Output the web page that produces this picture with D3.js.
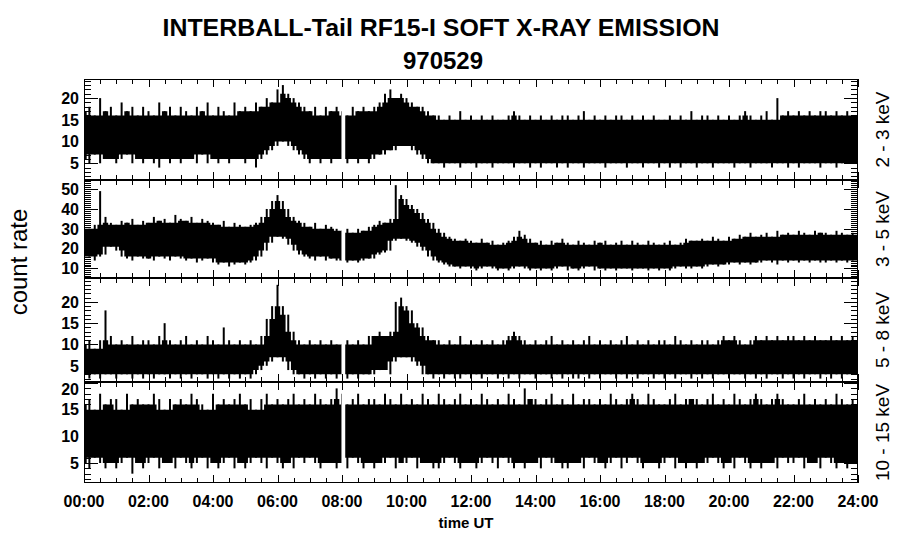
<!DOCTYPE html>
<html lang="en">
<head>
  <meta charset="UTF-8">
  <title>INTERBALL-Tail RF15-I soft X-ray emission</title>
  <style>
    body { margin: 0; background: #fff; }
    svg { display: block; font-family: "Liberation Sans", Arial, sans-serif; }
  </style>
</head>
<body>
  <svg id="chart" width="900" height="548"></svg>

  <script src="https://cdn.jsdelivr.net/npm/d3@7"></script>
  <script>
    // sampling grid: minutes of the day, every 10 min
    const times = d3.range(0, 1441, 10);
    // data gap around 08:00
    const gap = [479, 486];

    const bands = ["2 - 3 keV", "3 - 5 keV", "5 - 8 keV", "10 - 15 keV"];
    const yDomains = [[1.15, 24.4], [5.2, 54.6], [1.2, 25.6], [1.25, 20.2]];
    const yTickVals = [[5, 10, 15, 20], [10, 20, 30, 40, 50], [5, 10, 15, 20], [5, 10, 15, 20]];
    const xTickLabels = ["00:00", "02:00", "04:00", "06:00", "08:00", "10:00", "12:00",
                         "14:00", "16:00", "18:00", "20:00", "22:00", "24:00"];

    // upper / lower envelope of the count rate (10 min steps)
    const hi23 = [
      17,18,16,20,17,18, 16,19,17,18,16,18, 17,16,19,17,18,16, 18,17,16,18,17,19,
      16,18,17,16,19,17, 18,17,19,18,20,19, 22,23,21,20,19,18, 17,18,16,18,17,18,
      17,16,18,17,18,17, 18,19,21,22,20,21, 20,19,18,18,17,16, 16,15,16,15,17,15,
      16,15,16,15,16,15, 15,16,17,16,15,16, 15,16,15,16,15,16, 16,15,16,17,15,16,
      15,16,15,16,16,15, 16,15,16,15,16,15, 15,16,15,16,15,17, 15,16,16,15,16,15,
      16,15,16,17,16,15, 16,17,15,20,16,17, 16,17,16,17,16,17, 17,16,17,16,17,16, 16];
    const lo23 = [
      6,5,7,5,6,6, 5,6,7,5,6,5, 6,5,4,6,5,6, 5,6,6,5,7,5,
      6,5,6,5,6,6, 5,6,4,6,7,8, 9,10,9,8,7,6, 5,6,5,6,5,6,
      6,5,6,5,6,5, 6,7,7,8,8,9, 9,8,7,6,5,5, 5,4,5,5,4,5,
      5,4,5,5,4,5, 5,5,4,5,5,4, 5,4,5,5,4,5, 4,5,5,4,5,5,
      5,4,5,5,5,4, 5,5,4,5,5,4, 5,4,5,4,5,5, 4,5,5,4,5,5,
      5,4,5,5,4,5, 5,5,4,5,5,4, 5,4,5,5,5,4, 5,5,4,5,5,5, 5];
    const hi35 = [
      31,30,32,49,36,33, 32,34,33,35,32,34, 33,36,34,35,33,37, 35,34,36,33,35,34,
      33,32,34,31,33,32, 31,32,33,36,40,44, 47,44,40,36,34,33, 31,33,30,32,31,30,
      29,30,28,30,29,31, 32,34,33,35,52,47, 45,42,40,38,35,33, 30,28,26,25,24,25,
      24,23,25,23,24,22, 23,24,26,29,27,25, 23,24,22,24,23,25, 23,22,24,23,22,24,
      23,24,22,23,24,22, 24,23,22,24,23,22, 23,24,22,23,25,24, 24,25,24,26,25,24,
      26,25,27,26,28,26, 27,28,26,29,27,28, 27,29,28,27,29,28, 28,27,29,28,27,28, 27];
    const lo35 = [
      15,16,14,16,17,21, 19,16,15,14,16,15, 15,14,16,15,14,16, 15,14,15,13,14,15,
      13,12,13,11,12,13, 12,13,14,16,19,23, 26,25,22,19,17,16, 15,14,16,14,15,14,
      14,13,14,13,14,15, 15,17,18,19,24,25, 24,23,21,19,16,14, 13,12,11,11,10,11,
      10,9,10,11,10,9, 10,9,10,11,10,9, 10,9,10,9,10,11, 9,10,9,10,11,9,
      10,9,10,9,10,10, 9,10,10,9,10,9, 10,9,10,11,10,10, 11,10,11,12,11,12,
      12,13,12,13,12,13, 13,14,13,12,14,13, 14,13,14,13,14,13, 13,14,13,14,13,14, 14];
    const hi58 = [
      10,11,9,11,18,12, 10,11,10,12,10,11, 11,10,12,15,11,10, 11,12,10,11,10,12,
      11,10,14,11,10,11, 10,11,10,12,16,19, 24,19,17,13,11,10, 11,10,11,10,11,10,
      10,11,10,11,10,12, 12,13,12,13,20,21, 19,18,15,14,12,11, 11,10,11,10,12,10,
      11,10,11,10,11,10, 11,12,13,12,11,10, 11,10,11,12,10,11, 10,11,10,11,12,10,
      11,10,11,10,11,12, 10,11,10,11,10,11, 11,10,12,11,10,11, 10,11,11,10,11,12,
      11,12,11,10,11,12, 11,12,11,12,11,12, 12,11,12,11,12,11, 11,12,11,12,11,12, 11];
    const lo58 = [
      3,2,3,2,3,3, 2,3,3,2,3,2, 3,2,3,3,2,3, 2,3,2,3,3,2,
      3,2,3,2,3,2, 3,2,3,4,5,6, 7,6,4,3,3,2, 3,2,3,2,3,2,
      3,2,3,2,3,3, 3,4,4,3,6,7, 7,6,5,3,3,2, 3,2,3,2,2,3,
      2,3,2,3,3,2, 3,2,3,2,3,3, 2,3,3,2,3,2, 3,2,2,3,2,3,
      2,3,3,2,3,2, 3,2,3,3,2,3, 2,3,2,3,3,2, 3,2,3,2,3,3,
      2,3,3,2,3,2, 3,2,3,3,2,3, 2,3,2,3,3,2, 3,2,3,2,3,3, 2];
    const hi1015 = [
      16,17,15,18,16,17, 17,15,18,16,17,16, 16,18,17,15,17,16, 17,16,18,17,16,15,
      18,16,17,16,17,18, 16,17,15,17,18,16, 17,16,17,18,16,17, 16,18,17,16,17,19,
      18,16,17,18,16,17, 17,16,18,17,16,18, 16,17,16,18,17,16, 18,17,16,17,18,16,
      17,16,18,17,16,17, 16,18,17,16,19,17, 17,16,17,18,16,17, 16,18,16,17,17,16,
      17,16,18,17,16,17, 18,17,16,18,17,16, 16,17,18,16,17,17, 17,16,17,18,16,17,
      16,18,17,16,17,18, 17,16,17,18,17,16, 16,17,18,16,17,16, 17,16,18,17,16,17, 16];
    const lo1015 = [
      5,4,6,5,4,5, 4,5,6,3,5,4, 5,6,4,5,5,4, 6,5,4,5,6,4,
      5,4,5,6,4,5, 4,5,6,5,4,6, 5,4,5,4,6,5, 6,5,4,5,5,4,
      5,4,6,5,4,5, 4,5,5,6,4,5, 5,6,4,5,5,4, 4,5,6,5,4,5,
      5,4,5,6,5,4, 6,5,4,5,4,5, 5,4,6,5,5,4, 4,5,5,4,6,5,
      5,4,5,6,4,5, 6,5,4,5,5,4, 5,6,4,5,4,5, 4,5,5,6,5,4,
      5,4,6,5,4,5, 4,5,5,4,6,5, 5,6,4,5,5,4, 6,5,4,5,4,5, 5];

    const series = [[hi23, lo23], [hi35, lo35], [hi58, lo58], [hi1015, lo1015]];

    const svg = d3.select("#chart");
    const left = 84, right = 858;
    const tops = [79, 180, 278, 382], bottoms = [180, 278, 382, 483];

    const x = d3.scaleLinear().domain([0, 1440]).range([left, right]);

    series.forEach(([hi, lo], p) => {
      const top = tops[p], bot = bottoms[p];
      const y = d3.scaleLinear().domain(yDomains[p]).range([bot, top]);
      const g = svg.append("g");
      const last = hi.length - 1;

      g.append("clipPath").attr("id", "clip" + p)
        .append("rect").attr("x", left).attr("y", top)
        .attr("width", right - left).attr("height", bot - top);

      const plot = g.append("g").attr("clip-path", `url(#clip${p})`);

      // solid core: what every sample and its neighbours share
      const core = d3.area()
        .curve(d3.curveStep)
        .x((d, i) => x(times[i]))
        .y0((d, i) => y(Math.max(lo[i], lo[Math.min(i + 1, last)], lo[Math.max(i - 1, 0)])))
        .y1((d, i) => y(Math.min(hi[i], hi[Math.min(i + 1, last)], hi[Math.max(i - 1, 0)])));

      plot.append("path")
        .datum(hi)
        .attr("fill", "#000")
        .attr("d", core);

      // each sample's full spread as a thin spike
      plot.selectAll("line.spike")
        .data(hi)
        .join("line")
        .attr("class", "spike")
        .attr("x1", (d, i) => x(times[i]))
        .attr("x2", (d, i) => x(times[i]))
        .attr("y1", d => y(d))
        .attr("y2", (d, i) => y(lo[i]))
        .attr("stroke", "#000")
        .attr("stroke-width", 2);

      // no data in the gap
      plot.append("rect")
        .attr("x", x(gap[0])).attr("y", top + 1)
        .attr("width", x(gap[1]) - x(gap[0])).attr("height", bot - top - 2)
        .attr("fill", "#fff");

      g.append("rect")
        .attr("x", left + 0.5).attr("y", top + 0.5)
        .attr("width", right - left - 1).attr("height", bot - top - 1)
        .attr("fill", "none").attr("stroke", "#000");

      // x ticks, inward on top and bottom
      d3.range(0, 1441, 30).forEach(t => {
        const len = t % 120 === 0 ? 8 : 5;
        const xx = Math.round(x(t)) + 0.5;
        g.append("line").attr("x1", xx).attr("x2", xx).attr("y1", top).attr("y2", top + len).attr("stroke", "#000");
        g.append("line").attr("x1", xx).attr("x2", xx).attr("y1", bot).attr("y2", bot - len).attr("stroke", "#000");
      });

      // y ticks: minor every unit, major at labels
      const [d0, d1] = yDomains[p];
      d3.range(Math.ceil(d0), Math.floor(d1) + 1).forEach(v => {
        const len = yTickVals[p].includes(v) ? 14 : 7;
        const yy = Math.round(y(v)) + 0.5;
        g.append("line").attr("x1", left).attr("x2", left + len).attr("y1", yy).attr("y2", yy).attr("stroke", "#000");
        g.append("line").attr("x1", right).attr("x2", right - len).attr("y1", yy).attr("y2", yy).attr("stroke", "#000");
      });

      g.selectAll("text.ylab")
        .data(yTickVals[p])
        .join("text")
        .attr("class", "ylab")
        .attr("x", left - 5)
        .attr("y", d => Math.max(y(d), top + 7))
        .attr("dy", "0.36em")
        .attr("text-anchor", "end")
        .style("font-weight", "bold")
        .style("font-size", "16px")
        .text(d => d);

      svg.append("text")
        .attr("transform", `translate(882,${(top + bot) / 2}) rotate(-90)`)
        .attr("text-anchor", "middle")
        .attr("dy", "0.36em")
        .style("font-size", "19px")
        .text(bands[p]);
    });

    // time axis labels under the last panel
    svg.selectAll("text.xlab")
      .data(xTickLabels)
      .join("text")
      .attr("class", "xlab")
      .attr("x", (d, i) => x(i * 120))
      .attr("y", 507)
      .attr("text-anchor", "middle")
      .style("font-weight", "bold")
      .style("font-size", "16px")
      .text(d => d);

    svg.append("text")
      .attr("x", 466).attr("y", 528)
      .attr("text-anchor", "middle")
      .style("font-weight", "bold")
      .style("font-size", "15px")
      .text("time UT");

    svg.append("text")
      .attr("transform", "translate(27,262) rotate(-90)")
      .attr("text-anchor", "middle")
      .style("font-size", "24px")
      .text("count rate");

    svg.append("text")
      .attr("x", 441).attr("y", 36)
      .attr("text-anchor", "middle")
      .attr("textLength", 557).attr("lengthAdjust", "spacingAndGlyphs")
      .style("font-weight", "bold")
      .style("font-size", "24px")
      .text("INTERBALL-Tail RF15-I SOFT X-RAY EMISSION");

    svg.append("text")
      .attr("x", 443).attr("y", 69)
      .attr("text-anchor", "middle")
      .style("font-weight", "bold")
      .style("font-size", "24px")
      .text("970529");
  </script>
</body>
</html>
